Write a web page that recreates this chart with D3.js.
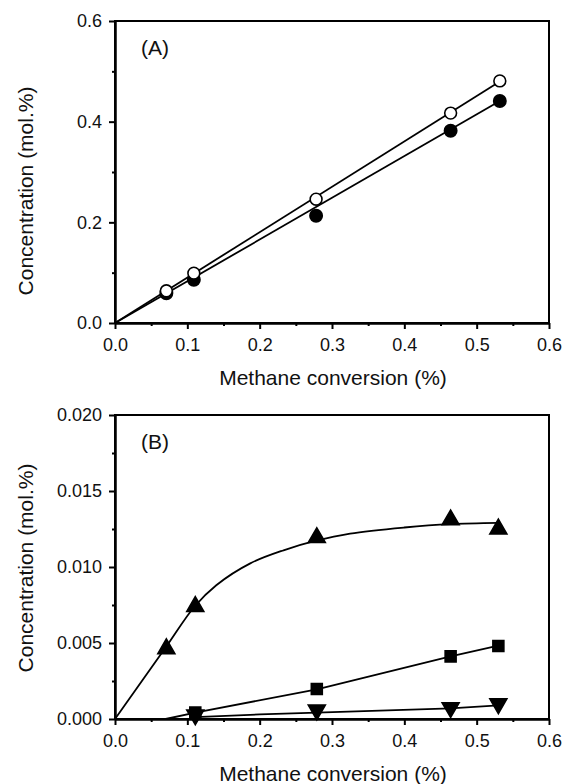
<!DOCTYPE html>
<html>
<head>
  <meta charset="utf-8">
  <title>Concentration vs methane conversion</title>
  <style>
  body { margin: 0; background: #fff; }
  svg { font-family: "Liberation Sans", Arial, sans-serif; }
  .axis path, .axis line { stroke: #000; stroke-width: 2; }
  .axis text { font-size: 18px; fill: #111; }
  .fit { fill: none; stroke: #000; stroke-width: 1.8; }
  </style>
</head>
<body>
<script src="https://d3js.org/d3.v7.min.js"></script>
<script>
// panel (A)
var convA = [0.071, 0.109, 0.278, 0.464, 0.532];
var openA = [0.064, 0.099, 0.246, 0.417, 0.481];
var filledA = [0.059, 0.086, 0.213, 0.382, 0.441];
var openFitX = [0, 0.532], openFitY = [0, 0.480];
var filledFitX = [0, 0.532], filledFitY = [0, 0.441];

// panel (B)
var convB = [0.071, 0.111, 0.279, 0.464, 0.530];
var triUp = [0.00462, 0.0074, 0.01193, 0.0131, 0.0125];
var convSq = [0.111, 0.279, 0.464, 0.530];
var square = [0.00042, 0.00197, 0.00412, 0.00480];
var triDown = [0.00027, 0.00059, 0.00075, 0.00100];
var triFitX = [0, 0.07, 0.11, 0.14, 0.187, 0.233, 0.278, 0.325, 0.4, 0.464, 0.53];
var triFitY = [0, 0.0047, 0.0074, 0.0088, 0.01024, 0.0111, 0.01173, 0.0122, 0.0126, 0.01282, 0.0129];
var sqFitX = [0.07, 0.111, 0.279, 0.464, 0.530];
var sqFitY = [0, 0.00042, 0.00195, 0.00412, 0.00482];
var downFitX = [0.111, 0.2, 0.279, 0.464, 0.530];
var downFitY = [0.00012, 0.0003, 0.00042, 0.0007, 0.0009];

var xTicks = [0, 0.1, 0.2, 0.3, 0.4, 0.5, 0.6];
var xMinor = [0.05, 0.15, 0.25, 0.35, 0.45, 0.55];
var yTicksA = [0, 0.2, 0.4, 0.6], yMinorA = [0.1, 0.3, 0.5];
var yTicksB = [0, 0.005, 0.010, 0.015, 0.020], yMinorB = [0.0025, 0.0075, 0.0125, 0.0175];

var width = 564, height = 784;
var left = 115, right = 549;

var svg = d3.select("body").append("svg")
    .attr("width", width)
    .attr("height", height);

function pts(xs, ys) { return xs.map(function(d, i) { return [d, ys[i]]; }); }

function panel(top, bottom, yMax, yTicks, yMinor, fmt, label, titleY) {
  var x = d3.scaleLinear().domain([0, 0.6]).range([left, right]);
  var y = d3.scaleLinear().domain([0, yMax]).range([bottom, top]);
  var g = svg.append("g");

  // frame
  g.append("rect")
      .attr("x", left).attr("y", top)
      .attr("width", right - left).attr("height", bottom - top)
      .attr("fill", "none").attr("stroke", "#000").attr("stroke-width", 2);

  g.append("g").attr("class", "axis")
      .attr("transform", "translate(0," + bottom + ")")
      .call(d3.axisBottom(x).tickValues(xTicks).tickFormat(d3.format(".1f"))
        .tickSize(6).tickSizeOuter(0).tickPadding(9));
  g.append("g").attr("class", "axis")
      .attr("transform", "translate(0," + bottom + ")")
      .call(d3.axisBottom(x).tickValues(xMinor).tickFormat("").tickSize(3).tickSizeOuter(0));
  g.append("g").attr("class", "axis")
      .attr("transform", "translate(" + left + ",0)")
      .call(d3.axisLeft(y).tickValues(yTicks).tickFormat(d3.format(fmt))
        .tickSize(6).tickSizeOuter(0).tickPadding(7));
  g.append("g").attr("class", "axis")
      .attr("transform", "translate(" + left + ",0)")
      .call(d3.axisLeft(y).tickValues(yMinor).tickFormat("").tickSize(3).tickSizeOuter(0));

  g.append("text")
      .attr("x", 141).attr("y", top + 34)
      .attr("font-size", 21).attr("fill", "#111")
      .text(label);

  g.append("text")
      .attr("x", (left + right) / 2 + 1).attr("y", bottom + 62)
      .attr("text-anchor", "middle").attr("font-size", 21).attr("fill", "#111")
      .text("Methane conversion (%)");

  g.append("text")
      .attr("transform", "translate(33," + titleY + ") rotate(-90)")
      .attr("text-anchor", "middle").attr("font-size", 21).attr("fill", "#111")
      .text("Concentration (mol.%)");

  return { g: g, x: x, y: y };
}

function fitLine(p, xs, ys, curve) {
  var line = d3.line()
      .x(function(d) { return p.x(d[0]); })
      .y(function(d) { return p.y(d[1]); })
      .curve(curve || d3.curveLinear);
  p.g.append("path").attr("class", "fit").attr("d", line(pts(xs, ys)));
}

function markers(p, xs, ys, type, size, fill, rot) {
  p.g.append("g").selectAll("path")
      .data(pts(xs, ys))
    .enter().append("path")
      .attr("transform", function(d) {
        return "translate(" + p.x(d[0]) + "," + p.y(d[1]) + ")" + (rot ? " rotate(180)" : "");
      })
      .attr("d", d3.symbol().type(type).size(size))
      .attr("fill", fill)
      .attr("stroke", "#000")
      .attr("stroke-width", 1.6);
}

// (A)
var a = panel(21, 323, 0.6, yTicksA, yMinorA, ".1f", "(A)", 191);
fitLine(a, filledFitX, filledFitY);
fitLine(a, openFitX, openFitY);
markers(a, convA, filledA, d3.symbolCircle, 120, "#000");
markers(a, convA, openA, d3.symbolCircle, 110, "#fff");

// (B)
var b = panel(415, 719, 0.020, yTicksB, yMinorB, ".3f", "(B)", 568);
fitLine(b, triFitX, triFitY, d3.curveCatmullRom);
fitLine(b, sqFitX, sqFitY);
fitLine(b, downFitX, downFitY);
markers(b, convB, triUp, d3.symbolTriangle, 125, "#000");
markers(b, convSq, square, d3.symbolSquare, 120, "#000");
markers(b, convSq, triDown, d3.symbolTriangle, 125, "#000", true);
</script>
</body>
</html>
